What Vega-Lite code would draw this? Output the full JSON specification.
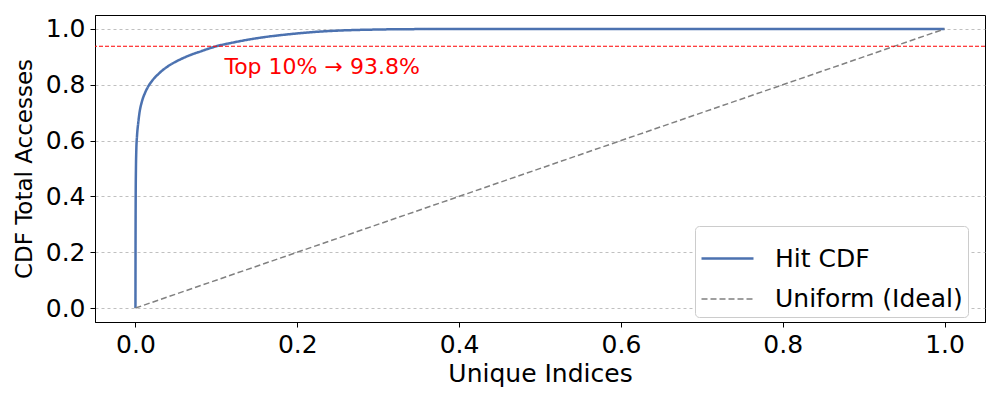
{
  "$schema": "https://vega.github.io/schema/vega-lite/v6.json",
  "width": 890,
  "height": 307,
  "autosize": {"type": "none"},
  "padding": {"left": 95, "top": 15, "right": 15, "bottom": 78},
  "background": "white",
  "config": {
    "font": "DejaVu Sans",
    "view": {"stroke": "black", "strokeWidth": 1},
    "axis": {"labelFont": "DejaVu Sans", "titleFont": "DejaVu Sans", "labelFontSize": 25, "titleFontSize": 25, "titleFontWeight": "normal", "labelColor": "black", "titleColor": "black", "domainColor": "black", "tickColor": "black", "tickSize": 5, "labelPadding": 5}
  },
  "datasets": {
    "curve": [
      {"series": "Hit CDF", "x": 0, "y": 0},
      {"series": "Hit CDF", "x": 0.0001, "y": 0.2},
      {"series": "Hit CDF", "x": 0.0003, "y": 0.4},
      {"series": "Hit CDF", "x": 0.0006, "y": 0.5},
      {"series": "Hit CDF", "x": 0.001, "y": 0.56},
      {"series": "Hit CDF", "x": 0.002, "y": 0.62},
      {"series": "Hit CDF", "x": 0.0033, "y": 0.66},
      {"series": "Hit CDF", "x": 0.005, "y": 0.7},
      {"series": "Hit CDF", "x": 0.008, "y": 0.74},
      {"series": "Hit CDF", "x": 0.012, "y": 0.772},
      {"series": "Hit CDF", "x": 0.016, "y": 0.795},
      {"series": "Hit CDF", "x": 0.02, "y": 0.812},
      {"series": "Hit CDF", "x": 0.03, "y": 0.843},
      {"series": "Hit CDF", "x": 0.04, "y": 0.866},
      {"series": "Hit CDF", "x": 0.05, "y": 0.883},
      {"series": "Hit CDF", "x": 0.06, "y": 0.897},
      {"series": "Hit CDF", "x": 0.07, "y": 0.909},
      {"series": "Hit CDF", "x": 0.08, "y": 0.919},
      {"series": "Hit CDF", "x": 0.09, "y": 0.929},
      {"series": "Hit CDF", "x": 0.1, "y": 0.938},
      {"series": "Hit CDF", "x": 0.12, "y": 0.951},
      {"series": "Hit CDF", "x": 0.14, "y": 0.962},
      {"series": "Hit CDF", "x": 0.16, "y": 0.971},
      {"series": "Hit CDF", "x": 0.18, "y": 0.978},
      {"series": "Hit CDF", "x": 0.2, "y": 0.984},
      {"series": "Hit CDF", "x": 0.22, "y": 0.989},
      {"series": "Hit CDF", "x": 0.25, "y": 0.994},
      {"series": "Hit CDF", "x": 0.3, "y": 0.998},
      {"series": "Hit CDF", "x": 0.35, "y": 0.9995},
      {"series": "Hit CDF", "x": 0.4, "y": 1.0},
      {"series": "Hit CDF", "x": 1.0, "y": 1.0},
      {"series": "Uniform (Ideal)", "x": 0, "y": 0},
      {"series": "Uniform (Ideal)", "x": 1, "y": 1}
    ],
    "one": [{"label": "Top 10% → 93.8%", "lx": 0.11, "ly": 0.864, "ry": 0.938}]
  },
  "layer": [
    {
      "data": {"name": "curve"},
      "mark": {"type": "line", "clip": true, "interpolate": "monotone"},
      "encoding": {
        "x": {"field": "x", "type": "quantitative", "scale": {"domain": [-0.05, 1.05], "nice": false, "zero": false}, "axis": {"title": "Unique Indices", "values": [0, 0.2, 0.4, 0.6, 0.8, 1.0], "format": ".1f", "grid": false, "titlePadding": 4}},
        "y": {"field": "y", "type": "quantitative", "scale": {"domain": [-0.05, 1.05], "nice": false, "zero": false}, "axis": {"title": "CDF Total Accesses", "titleFontSize": 23, "values": [0, 0.2, 0.4, 0.6, 0.8, 1.0], "format": ".1f", "grid": true, "gridDash": [3, 3], "gridColor": "#b0b0b0", "gridWidth": 0.8, "titlePadding": 9}},
        "color": {"field": "series", "type": "nominal", "scale": {"domain": ["Hit CDF", "Uniform (Ideal)"], "range": ["#4c72b0", "#808080"]}, "legend": {"title": null, "orient": "none", "legendX": 600, "legendY": 211, "labelFontSize": 25, "labelFont": "DejaVu Sans", "labelColor": "black", "labelLimit": 400, "symbolType": "stroke", "symbolSize": 2704, "symbolStrokeWidth": 2, "rowPadding": -10, "labelOffset": 20, "padding": 5, "strokeColor": "#cccccc", "fillColor": "white", "cornerRadius": 4}},
        "strokeDash": {"field": "series", "type": "nominal", "scale": {"domain": ["Hit CDF", "Uniform (Ideal)"], "range": [[1, 0], [6, 3]]}, "legend": {"title": null}},
        "strokeWidth": {"field": "series", "type": "nominal", "scale": {"domain": ["Hit CDF", "Uniform (Ideal)"], "range": [2.5, 1.5]}, "legend": null}
      }
    },
    {
      "data": {"name": "one"},
      "mark": {"type": "rule", "color": "red", "strokeDash": [4, 2], "strokeWidth": 1},
      "encoding": {"y": {"field": "ry", "type": "quantitative"}}
    },
    {
      "data": {"name": "one"},
      "mark": {"type": "text", "color": "red", "fontSize": 22, "align": "left", "baseline": "middle", "font": "DejaVu Sans"},
      "encoding": {"x": {"field": "lx", "type": "quantitative"}, "y": {"field": "ly", "type": "quantitative"}, "text": {"field": "label"}}
    }
  ]
}
